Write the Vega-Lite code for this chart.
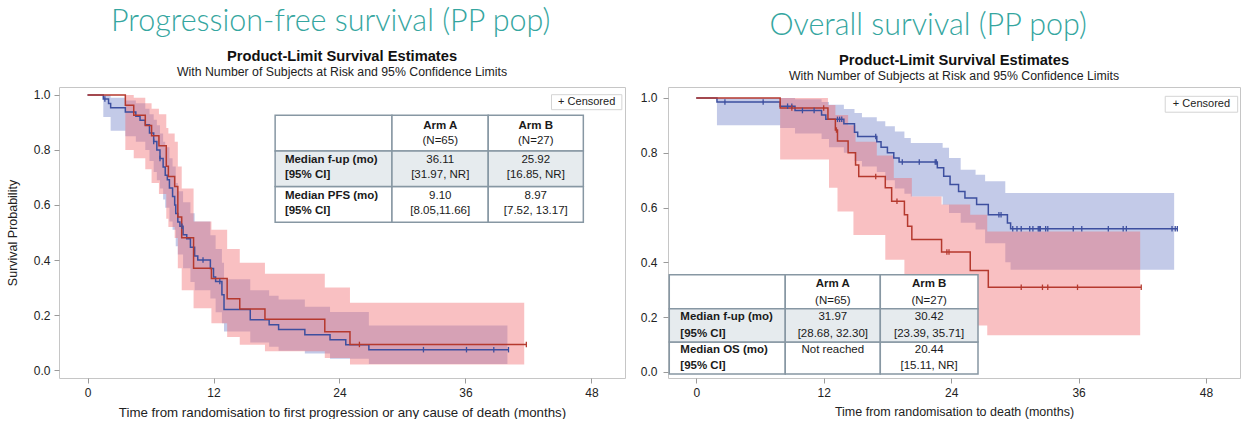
{
"$schema": "https://vega.github.io/schema/vega-lite/v6.json",
"padding": {"left": 5, "top": 7, "right": 0, "bottom": 0},
"spacing": 13,
"config": {
  "font": "Liberation Sans",
  "view": {"stroke": "#c6c6c6", "strokeWidth": 1},
  "axis": {"grid": false, "domain": false, "tickColor": "#9a9a9a", "tickSize": 5, "labelFontSize": 12, "labelColor": "#222", "titleFontSize": 12.5, "titleFontWeight": "normal", "titleColor": "#222", "labelFont": "Liberation Sans", "titleFont": "Liberation Sans"}
},
"datasets": {
  "pfsLine": [
    {"arm":"A","x":0,"y":1},{"arm":"A","x":1.5,"y":0.985},{"arm":"A","x":2.0,"y":0.969},{"arm":"A","x":2.2,"y":0.954},{"arm":"A","x":3.6,"y":0.938},{"arm":"A","x":4.6,"y":0.923},{"arm":"A","x":5.0,"y":0.908},{"arm":"A","x":5.5,"y":0.892},{"arm":"A","x":5.9,"y":0.862},{"arm":"A","x":6.3,"y":0.831},{"arm":"A","x":6.6,"y":0.8},{"arm":"A","x":6.9,"y":0.769},{"arm":"A","x":7.2,"y":0.738},{"arm":"A","x":7.4,"y":0.708},{"arm":"A","x":7.6,"y":0.692},{"arm":"A","x":7.8,"y":0.662},{"arm":"A","x":8.1,"y":0.631},{"arm":"A","x":8.3,"y":0.6},{"arm":"A","x":8.4,"y":0.569},{"arm":"A","x":8.6,"y":0.538},{"arm":"A","x":8.8,"y":0.523},{"arm":"A","x":9.1,"y":0.492},{"arm":"A","x":9.45,"y":0.477},{"arm":"A","x":9.8,"y":0.446},{"arm":"A","x":10.2,"y":0.415},{"arm":"A","x":10.5,"y":0.4},{"arm":"A","x":11.7,"y":0.369},{"arm":"A","x":12.0,"y":0.338},{"arm":"A","x":12.2,"y":0.322},{"arm":"A","x":12.8,"y":0.274},{"arm":"A","x":13.0,"y":0.22},{"arm":"A","x":15.5,"y":0.183},{"arm":"A","x":17.3,"y":0.165},{"arm":"A","x":18.2,"y":0.147},{"arm":"A","x":20.7,"y":0.128},{"arm":"A","x":23.1,"y":0.11},{"arm":"A","x":24.6,"y":0.092},{"arm":"A","x":26.8,"y":0.074},{"arm":"A","x":40.1,"y":0.074},
    {"arm":"B","x":0,"y":1},{"arm":"B","x":3.6,"y":0.963},{"arm":"B","x":4.4,"y":0.926},{"arm":"B","x":5.5,"y":0.889},{"arm":"B","x":6.1,"y":0.852},{"arm":"B","x":6.8,"y":0.815},{"arm":"B","x":7.5,"y":0.741},{"arm":"B","x":7.7,"y":0.704},{"arm":"B","x":8.3,"y":0.667},{"arm":"B","x":8.6,"y":0.556},{"arm":"B","x":8.97,"y":0.481},{"arm":"B","x":10.1,"y":0.37},{"arm":"B","x":11.8,"y":0.333},{"arm":"B","x":13.3,"y":0.259},{"arm":"B","x":14.5,"y":0.222},{"arm":"B","x":16.9,"y":0.185},{"arm":"B","x":22.6,"y":0.139},{"arm":"B","x":25.0,"y":0.093},{"arm":"B","x":41.8,"y":0.093}
  ],
  "pfsBand": [
    {"arm":"A","x":1.5,"y":0.92,"y2":1.0},{"arm":"A","x":2.2,"y":0.87,"y2":0.99},{"arm":"A","x":3.6,"y":0.85,"y2":0.98},{"arm":"A","x":4.6,"y":0.83,"y2":0.97},{"arm":"A","x":5.5,"y":0.8,"y2":0.95},{"arm":"A","x":5.9,"y":0.76,"y2":0.93},{"arm":"A","x":6.3,"y":0.72,"y2":0.91},{"arm":"A","x":6.6,"y":0.69,"y2":0.89},{"arm":"A","x":6.9,"y":0.66,"y2":0.86},{"arm":"A","x":7.2,"y":0.62,"y2":0.83},{"arm":"A","x":7.4,"y":0.59,"y2":0.81},{"arm":"A","x":7.8,"y":0.54,"y2":0.77},{"arm":"A","x":8.1,"y":0.51,"y2":0.74},{"arm":"A","x":8.4,"y":0.45,"y2":0.68},{"arm":"A","x":8.6,"y":0.42,"y2":0.65},{"arm":"A","x":9.1,"y":0.37,"y2":0.61},{"arm":"A","x":9.8,"y":0.32,"y2":0.57},{"arm":"A","x":10.2,"y":0.29,"y2":0.54},{"arm":"A","x":11.7,"y":0.26,"y2":0.49},{"arm":"A","x":12.2,"y":0.21,"y2":0.44},{"arm":"A","x":12.8,"y":0.17,"y2":0.39},{"arm":"A","x":13.0,"y":0.14,"y2":0.33},{"arm":"A","x":15.5,"y":0.1,"y2":0.29},{"arm":"A","x":17.3,"y":0.085,"y2":0.27},{"arm":"A","x":18.2,"y":0.07,"y2":0.256},{"arm":"A","x":20.7,"y":0.06,"y2":0.23},{"arm":"A","x":23.1,"y":0.041,"y2":0.211},{"arm":"A","x":26.8,"y":0.022,"y2":0.162},{"arm":"A","x":40.0,"y":0.022,"y2":0.162},
    {"arm":"B","x":3.6,"y":0.8,"y2":1.0},{"arm":"B","x":4.4,"y":0.77,"y2":0.99},{"arm":"B","x":5.5,"y":0.73,"y2":0.97},{"arm":"B","x":6.1,"y":0.68,"y2":0.95},{"arm":"B","x":6.8,"y":0.64,"y2":0.93},{"arm":"B","x":7.5,"y":0.55,"y2":0.88},{"arm":"B","x":7.7,"y":0.52,"y2":0.86},{"arm":"B","x":8.3,"y":0.48,"y2":0.83},{"arm":"B","x":8.6,"y":0.37,"y2":0.74},{"arm":"B","x":8.97,"y":0.29,"y2":0.66},{"arm":"B","x":10.1,"y":0.225,"y2":0.54},{"arm":"B","x":11.8,"y":0.17,"y2":0.51},{"arm":"B","x":13.3,"y":0.12,"y2":0.44},{"arm":"B","x":14.5,"y":0.092,"y2":0.39},{"arm":"B","x":16.9,"y":0.068,"y2":0.35},{"arm":"B","x":22.6,"y":0.044,"y2":0.3},{"arm":"B","x":25.0,"y":0.02,"y2":0.245},{"arm":"B","x":41.6,"y":0.02,"y2":0.245}
  ],
  "pfsCens": [
    {"arm":"A","x":1.65,"y":0.985},{"arm":"A","x":6.3,"y":0.831},{"arm":"A","x":6.9,"y":0.769},{"arm":"A","x":9.0,"y":0.523},{"arm":"A","x":11.0,"y":0.4},{"arm":"A","x":12.6,"y":0.322},{"arm":"A","x":32.0,"y":0.074},{"arm":"A","x":36.1,"y":0.074},{"arm":"A","x":38.7,"y":0.074},{"arm":"A","x":40.1,"y":0.074},
    {"arm":"B","x":25.9,"y":0.093},{"arm":"B","x":41.8,"y":0.093}
  ],
  "pfsCells": [
    {"row":"header","x":17.87,"x2":29.0,"y":0.796,"y2":0.926},{"row":"header","x":29.0,"x2":38.17,"y":0.796,"y2":0.926},{"row":"header","x":38.17,"x2":47.23,"y":0.796,"y2":0.926},
    {"row":"fup","x":17.87,"x2":29.0,"y":0.667,"y2":0.796},{"row":"fup","x":29.0,"x2":38.17,"y":0.667,"y2":0.796},{"row":"fup","x":38.17,"x2":47.23,"y":0.667,"y2":0.796},
    {"row":"median","x":17.87,"x2":29.0,"y":0.537,"y2":0.667},{"row":"median","x":29.0,"x2":38.17,"y":0.537,"y2":0.667},{"row":"median","x":38.17,"x2":47.23,"y":0.537,"y2":0.667}
  ],
  "pfsText": [
    {"kind":"label","x":18.8,"y":0.765,"text":"Median f-up (mo)"},{"kind":"label","x":18.8,"y":0.71,"text":"[95% CI]"},{"kind":"label","x":18.8,"y":0.634,"text":"Median PFS (mo)"},{"kind":"label","x":18.8,"y":0.577,"text":"[95% CI]"},
    {"kind":"head","x":33.6,"y":0.886,"text":"Arm A"},{"kind":"value","x":33.6,"y":0.832,"text":"(N=65)"},{"kind":"head","x":42.7,"y":0.886,"text":"Arm B"},{"kind":"value","x":42.7,"y":0.832,"text":"(N=27)"},
    {"kind":"value","x":33.6,"y":0.765,"text":"36.11"},{"kind":"value","x":33.6,"y":0.71,"text":"[31.97, NR]"},{"kind":"value","x":42.7,"y":0.765,"text":"25.92"},{"kind":"value","x":42.7,"y":0.71,"text":"[16.85, NR]"},
    {"kind":"value","x":33.6,"y":0.634,"text":"9.10"},{"kind":"value","x":33.6,"y":0.577,"text":"[8.05,11.66]"},{"kind":"value","x":42.7,"y":0.634,"text":"8.97"},{"kind":"value","x":42.7,"y":0.577,"text":"[7.52, 13.17]"}
  ],
  "pfsLegend": [{"x":44.2,"x2":50.9,"y":0.9465,"y2":1.001,"xm":47.55,"ym":0.974,"text":"+ Censored"}],
  "osLine": [
    {"arm":"A","x":0,"y":1},{"arm":"A","x":1.95,"y":0.985},{"arm":"A","x":7.9,"y":0.97},{"arm":"A","x":9.3,"y":0.954},{"arm":"A","x":11.8,"y":0.938},{"arm":"A","x":12.2,"y":0.922},{"arm":"A","x":13.9,"y":0.906},{"arm":"A","x":14.9,"y":0.875},{"arm":"A","x":15.2,"y":0.859},{"arm":"A","x":17.0,"y":0.84},{"arm":"A","x":17.4,"y":0.82},{"arm":"A","x":18.0,"y":0.8},{"arm":"A","x":18.6,"y":0.781},{"arm":"A","x":19.1,"y":0.766},{"arm":"A","x":22.7,"y":0.745},{"arm":"A","x":23.3,"y":0.714},{"arm":"A","x":23.9,"y":0.684},{"arm":"A","x":24.7,"y":0.659},{"arm":"A","x":25.3,"y":0.635},{"arm":"A","x":26.4,"y":0.611},{"arm":"A","x":27.5,"y":0.574},{"arm":"A","x":29.3,"y":0.544},{"arm":"A","x":29.6,"y":0.523},{"arm":"A","x":45.3,"y":0.523},
    {"arm":"B","x":0,"y":1},{"arm":"B","x":7.9,"y":0.963},{"arm":"B","x":12.4,"y":0.922},{"arm":"B","x":13.1,"y":0.883},{"arm":"B","x":13.3,"y":0.843},{"arm":"B","x":14.3,"y":0.8},{"arm":"B","x":15.0,"y":0.755},{"arm":"B","x":15.3,"y":0.713},{"arm":"B","x":17.8,"y":0.672},{"arm":"B","x":18.4,"y":0.623},{"arm":"B","x":19.6,"y":0.574},{"arm":"B","x":19.9,"y":0.532},{"arm":"B","x":20.3,"y":0.483},{"arm":"B","x":23.1,"y":0.438},{"arm":"B","x":25.8,"y":0.37},{"arm":"B","x":27.5,"y":0.309},{"arm":"B","x":41.9,"y":0.309}
  ],
  "osBand": [
    {"arm":"A","x":1.95,"y":0.9,"y2":1.0},{"arm":"A","x":7.9,"y":0.89,"y2":1.0},{"arm":"A","x":9.3,"y":0.87,"y2":0.995},{"arm":"A","x":11.8,"y":0.85,"y2":0.985},{"arm":"A","x":12.5,"y":0.82,"y2":0.975},{"arm":"A","x":13.9,"y":0.8,"y2":0.96},{"arm":"A","x":14.9,"y":0.77,"y2":0.945},{"arm":"A","x":15.6,"y":0.75,"y2":0.93},{"arm":"A","x":17.0,"y":0.73,"y2":0.915},{"arm":"A","x":17.8,"y":0.7,"y2":0.897},{"arm":"A","x":18.7,"y":0.67,"y2":0.878},{"arm":"A","x":19.6,"y":0.65,"y2":0.854},{"arm":"A","x":20.2,"y":0.64,"y2":0.836},{"arm":"A","x":23.2,"y":0.61,"y2":0.818},{"arm":"A","x":23.8,"y":0.58,"y2":0.781},{"arm":"A","x":24.9,"y":0.545,"y2":0.738},{"arm":"A","x":26.3,"y":0.52,"y2":0.72},{"arm":"A","x":27.2,"y":0.47,"y2":0.696},{"arm":"A","x":29.1,"y":0.4,"y2":0.653},{"arm":"A","x":29.6,"y":0.373,"y2":0.653},{"arm":"A","x":45.0,"y":0.373,"y2":0.653},
    {"arm":"B","x":7.9,"y":0.775,"y2":1.0},{"arm":"B","x":12.4,"y":0.775,"y2":0.974},{"arm":"B","x":12.5,"y":0.672,"y2":0.974},{"arm":"B","x":13.1,"y":0.672,"y2":0.938},{"arm":"B","x":13.3,"y":0.586,"y2":0.938},{"arm":"B","x":14.3,"y":0.586,"y2":0.9},{"arm":"B","x":14.8,"y":0.5,"y2":0.9},{"arm":"B","x":15.0,"y":0.5,"y2":0.84},{"arm":"B","x":17.0,"y":0.5,"y2":0.79},{"arm":"B","x":17.8,"y":0.41,"y2":0.79},{"arm":"B","x":18.6,"y":0.41,"y2":0.708},{"arm":"B","x":19.6,"y":0.33,"y2":0.708},{"arm":"B","x":20.3,"y":0.27,"y2":0.64},{"arm":"B","x":23.1,"y":0.22,"y2":0.611},{"arm":"B","x":25.8,"y":0.17,"y2":0.574},{"arm":"B","x":27.4,"y":0.134,"y2":0.513},{"arm":"B","x":41.8,"y":0.134,"y2":0.513}
  ],
  "osCens": [
    {"arm":"A","x":2.7,"y":0.985},{"arm":"A","x":6.3,"y":0.985},{"arm":"A","x":8.6,"y":0.97},{"arm":"A","x":9.0,"y":0.97},{"arm":"A","x":10.0,"y":0.954},{"arm":"A","x":11.1,"y":0.954},{"arm":"A","x":13.3,"y":0.922},{"arm":"A","x":13.5,"y":0.922},{"arm":"A","x":13.7,"y":0.922},{"arm":"A","x":16.9,"y":0.859},{"arm":"A","x":19.4,"y":0.766},{"arm":"A","x":21.0,"y":0.766},{"arm":"A","x":22.5,"y":0.766},{"arm":"A","x":22.6,"y":0.766},{"arm":"A","x":28.5,"y":0.574},{"arm":"A","x":28.7,"y":0.574},{"arm":"A","x":29.8,"y":0.523},{"arm":"A","x":30.2,"y":0.523},{"arm":"A","x":30.6,"y":0.523},{"arm":"A","x":31.4,"y":0.523},{"arm":"A","x":31.7,"y":0.523},{"arm":"A","x":32.2,"y":0.523},{"arm":"A","x":32.3,"y":0.523},{"arm":"A","x":32.4,"y":0.523},{"arm":"A","x":32.9,"y":0.523},{"arm":"A","x":33.1,"y":0.523},{"arm":"A","x":35.5,"y":0.523},{"arm":"A","x":36.3,"y":0.523},{"arm":"A","x":38.8,"y":0.523},{"arm":"A","x":40.2,"y":0.523},{"arm":"A","x":40.5,"y":0.523},{"arm":"A","x":44.8,"y":0.523},{"arm":"A","x":45.1,"y":0.523},{"arm":"A","x":45.3,"y":0.523},
    {"arm":"B","x":9.0,"y":0.963},{"arm":"B","x":12.0,"y":0.963},{"arm":"B","x":13.2,"y":0.883},{"arm":"B","x":16.9,"y":0.713},{"arm":"B","x":18.9,"y":0.623},{"arm":"B","x":23.6,"y":0.438},{"arm":"B","x":23.8,"y":0.438},{"arm":"B","x":30.6,"y":0.309},{"arm":"B","x":32.6,"y":0.309},{"arm":"B","x":33.1,"y":0.309},{"arm":"B","x":35.9,"y":0.309},{"arm":"B","x":41.9,"y":0.309}
  ],
  "osCells": [
    {"row":"header","x":-2.54,"x2":8.38,"y":0.231,"y2":0.355},{"row":"header","x":8.38,"x2":17.33,"y":0.231,"y2":0.355},{"row":"header","x":17.33,"x2":26.53,"y":0.231,"y2":0.355},
    {"row":"fup","x":-2.54,"x2":8.38,"y":0.109,"y2":0.231},{"row":"fup","x":8.38,"x2":17.33,"y":0.109,"y2":0.231},{"row":"fup","x":17.33,"x2":26.53,"y":0.109,"y2":0.231},
    {"row":"median","x":-2.54,"x2":8.38,"y":-0.007,"y2":0.109},{"row":"median","x":8.38,"x2":17.33,"y":-0.007,"y2":0.109},{"row":"median","x":17.33,"x2":26.53,"y":-0.007,"y2":0.109}
  ],
  "osText": [
    {"kind":"label","x":-1.5,"y":0.2,"text":"Median f-up (mo)"},{"kind":"label","x":-1.5,"y":0.139,"text":"[95% CI]"},{"kind":"label","x":-1.5,"y":0.081,"text":"Median OS (mo)"},{"kind":"label","x":-1.5,"y":0.021,"text":"[95% CI]"},
    {"kind":"head","x":12.86,"y":0.321,"text":"Arm A"},{"kind":"value","x":12.86,"y":0.258,"text":"(N=65)"},{"kind":"head","x":21.93,"y":0.321,"text":"Arm B"},{"kind":"value","x":21.93,"y":0.258,"text":"(N=27)"},
    {"kind":"value","x":12.86,"y":0.2,"text":"31.97"},{"kind":"value","x":12.86,"y":0.139,"text":"[28.68, 32.30]"},{"kind":"value","x":21.93,"y":0.2,"text":"30.42"},{"kind":"value","x":21.93,"y":0.139,"text":"[23.39, 35.71]"},
    {"kind":"value","x":12.86,"y":0.081,"text":"Not reached"},{"kind":"value","x":21.93,"y":0.081,"text":"20.44"},{"kind":"value","x":21.93,"y":0.021,"text":"[15.11, NR]"}
  ],
  "osLegend": [{"x":44.16,"x2":50.98,"y":0.948,"y2":1.006,"xm":47.57,"ym":0.977,"text":"+ Censored"}]
},
"hconcat": [
  {
    "title": {"text": "Progression-free survival (PP pop)", "font": "Lato", "fontWeight": 300, "fontSize": 30.5, "color": "#35a6a0", "anchor": "middle", "offset": 11, "dx": 15},
    "vconcat": [{
      "title": {"text": "Product-Limit Survival Estimates", "subtitle": "With Number of Subjects at Risk and 95% Confidence Limits", "fontSize": 14.7, "fontWeight": "bold", "color": "#111", "subtitleFontSize": 12.3, "subtitleColor": "#222", "subtitlePadding": 2, "offset": 9, "frame": "group", "anchor": "middle"},
      "width": 566, "height": 291,
      "encoding": {
        "x": {"field": "x", "type": "quantitative", "scale": {"domain": [-2.72, 51.2], "nice": false, "zero": false}, "axis": {"values": [0, 12, 24, 36, 48], "title": "Time from randomisation to first progression or any cause of death (months)", "titleFontSize": 13.3, "titlePadding": 7, "labelPadding": 4}},
        "y": {"field": "y", "type": "quantitative", "scale": {"domain": [-0.029, 1.029], "nice": false, "zero": false}, "axis": {"values": [0, 0.2, 0.4, 0.6, 0.8, 1], "format": ".1f", "title": "Survival Probability", "titlePadding": 14, "labelPadding": 4}}
      },
      "layer": [
        {"data": {"name": "pfsBand"}, "mark": {"type": "area", "interpolate": "step-after", "opacity": 0.42},
         "encoding": {"y2": {"field": "y2"}, "fill": {"field": "arm", "type": "nominal", "scale": {"domain": ["A", "B"], "range": ["#7080C8", "#F06A6E"]}, "legend": null}}},
        {"data": {"name": "pfsLine"}, "mark": {"type": "line", "interpolate": "step-after", "strokeWidth": 1.5},
         "encoding": {"stroke": {"field": "arm", "type": "nominal", "scale": {"domain": ["A", "B"], "range": ["#3D4F9F", "#B5392E"]}, "legend": null}}},
        {"data": {"name": "pfsCens"}, "mark": {"type": "point", "shape": "M0,-1L0,1", "filled": false, "strokeWidth": 1.3, "size": 30, "opacity": 1},
         "encoding": {"stroke": {"field": "arm", "type": "nominal", "scale": {"domain": ["A", "B"], "range": ["#3D4F9F", "#B5392E"]}, "legend": null}}},
        {"data": {"name": "pfsCells"}, "transform": [{"filter": "datum.row != 'fup'"}], "mark": {"type": "rect", "fill": "#ffffff", "stroke": "#8797a3", "strokeWidth": 1.5},
         "encoding": {"x2": {"field": "x2"}, "y2": {"field": "y2"}}},
        {"data": {"name": "pfsCells"}, "transform": [{"filter": "datum.row == 'fup'"}], "mark": {"type": "rect", "fill": "#e6ebee", "stroke": "#8797a3", "strokeWidth": 1.5},
         "encoding": {"x2": {"field": "x2"}, "y2": {"field": "y2"}}},
        {"data": {"name": "pfsText"}, "transform": [{"filter": "datum.kind == 'label'"}], "mark": {"type": "text", "align": "left", "baseline": "middle", "fontWeight": "bold", "fontSize": 11.5, "color": "#1a1a1a"},
         "encoding": {"text": {"field": "text"}}},
        {"data": {"name": "pfsText"}, "transform": [{"filter": "datum.kind == 'head'"}], "mark": {"type": "text", "align": "center", "baseline": "middle", "fontWeight": "bold", "fontSize": 11.5, "color": "#1a1a1a"},
         "encoding": {"text": {"field": "text"}}},
        {"data": {"name": "pfsText"}, "transform": [{"filter": "datum.kind == 'value'"}], "mark": {"type": "text", "align": "center", "baseline": "middle", "fontSize": 11.5, "color": "#1a1a1a"},
         "encoding": {"text": {"field": "text"}}},
        {"data": {"name": "pfsLegend"}, "mark": {"type": "rect", "fill": "#ffffff", "stroke": "#d4d4d4", "strokeWidth": 1},
         "encoding": {"x2": {"field": "x2"}, "y2": {"field": "y2"}}},
        {"data": {"name": "pfsLegend"}, "mark": {"type": "text", "align": "center", "baseline": "middle", "fontSize": 11, "color": "#222"},
         "encoding": {"x": {"field": "xm", "type": "quantitative"}, "y": {"field": "ym", "type": "quantitative"}, "text": {"field": "text"}}}
      ]
    }]
  },
  {
    "title": {"text": "Overall survival (PP pop)", "font": "Lato", "fontWeight": 300, "fontSize": 30.5, "color": "#35a6a0", "anchor": "middle", "offset": 11, "dx": -12},
    "vconcat": [{
      "title": {"text": "Product-Limit Survival Estimates", "subtitle": "With Number of Subjects at Risk and 95% Confidence Limits", "fontSize": 14.7, "fontWeight": "bold", "color": "#111", "subtitleFontSize": 12.3, "subtitleColor": "#222", "subtitlePadding": 2, "offset": 9, "frame": "group", "anchor": "middle", "dy": 4},
      "width": 572, "height": 291,
      "encoding": {
        "x": {"field": "x", "type": "quantitative", "scale": {"domain": [-2.66, 51.2], "nice": false, "zero": false}, "axis": {"values": [0, 12, 24, 36, 48], "title": "Time from randomisation to death (months)", "titlePadding": 7, "labelPadding": 4}},
        "y": {"field": "y", "type": "quantitative", "scale": {"domain": [-0.022, 1.04], "nice": false, "zero": false}, "axis": {"values": [0, 0.2, 0.4, 0.6, 0.8, 1], "format": ".1f", "title": null, "labelPadding": 6}}
      },
      "layer": [
        {"data": {"name": "osBand"}, "mark": {"type": "area", "interpolate": "step-after", "opacity": 0.42},
         "encoding": {"y2": {"field": "y2"}, "fill": {"field": "arm", "type": "nominal", "scale": {"domain": ["A", "B"], "range": ["#7080C8", "#F06A6E"]}, "legend": null}}},
        {"data": {"name": "osLine"}, "mark": {"type": "line", "interpolate": "step-after", "strokeWidth": 1.5},
         "encoding": {"stroke": {"field": "arm", "type": "nominal", "scale": {"domain": ["A", "B"], "range": ["#3D4F9F", "#B5392E"]}, "legend": null}}},
        {"data": {"name": "osCens"}, "mark": {"type": "point", "shape": "M0,-1L0,1", "filled": false, "strokeWidth": 1.3, "size": 30, "opacity": 1},
         "encoding": {"stroke": {"field": "arm", "type": "nominal", "scale": {"domain": ["A", "B"], "range": ["#3D4F9F", "#B5392E"]}, "legend": null}}},
        {"data": {"name": "osCells"}, "transform": [{"filter": "datum.row != 'fup'"}], "mark": {"type": "rect", "fill": "#ffffff", "stroke": "#8797a3", "strokeWidth": 1.5},
         "encoding": {"x2": {"field": "x2"}, "y2": {"field": "y2"}}},
        {"data": {"name": "osCells"}, "transform": [{"filter": "datum.row == 'fup'"}], "mark": {"type": "rect", "fill": "#e6ebee", "stroke": "#8797a3", "strokeWidth": 1.5},
         "encoding": {"x2": {"field": "x2"}, "y2": {"field": "y2"}}},
        {"data": {"name": "osText"}, "transform": [{"filter": "datum.kind == 'label'"}], "mark": {"type": "text", "align": "left", "baseline": "middle", "fontWeight": "bold", "fontSize": 11.5, "color": "#1a1a1a"},
         "encoding": {"text": {"field": "text"}}},
        {"data": {"name": "osText"}, "transform": [{"filter": "datum.kind == 'head'"}], "mark": {"type": "text", "align": "center", "baseline": "middle", "fontWeight": "bold", "fontSize": 11.5, "color": "#1a1a1a"},
         "encoding": {"text": {"field": "text"}}},
        {"data": {"name": "osText"}, "transform": [{"filter": "datum.kind == 'value'"}], "mark": {"type": "text", "align": "center", "baseline": "middle", "fontSize": 11.5, "color": "#1a1a1a"},
         "encoding": {"text": {"field": "text"}}},
        {"data": {"name": "osLegend"}, "mark": {"type": "rect", "fill": "#ffffff", "stroke": "#d4d4d4", "strokeWidth": 1},
         "encoding": {"x2": {"field": "x2"}, "y2": {"field": "y2"}}},
        {"data": {"name": "osLegend"}, "mark": {"type": "text", "align": "center", "baseline": "middle", "fontSize": 11, "color": "#222"},
         "encoding": {"x": {"field": "xm", "type": "quantitative"}, "y": {"field": "ym", "type": "quantitative"}, "text": {"field": "text"}}}
      ]
    }]
  }
]
}
